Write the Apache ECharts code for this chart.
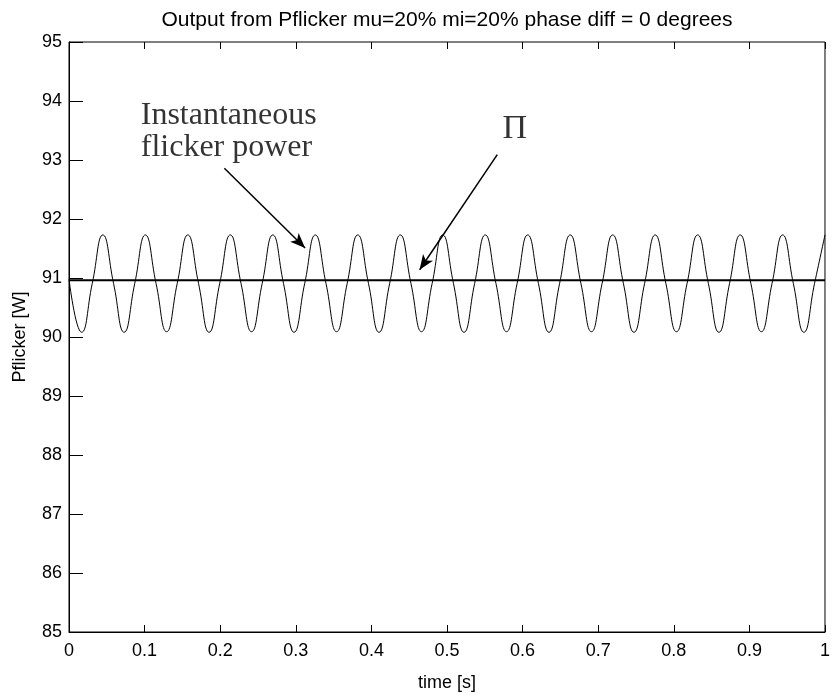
<!DOCTYPE html>
<html>
<head>
<meta charset="utf-8">
<title>Pflicker</title>
<script src="https://cdn.jsdelivr.net/npm/echarts@6/dist/echarts.min.js"></script>
<style>
	html, body { margin: 0; padding: 0; background: #fff; }
	#main { width: 833px; height: 697px; }
</style>
</head>
<body>
<div id="main"></div>
<script>
// time samples [s] (start, trough, crossing, peak, crossing, ...)
var flickerTime = [
	0, 0.0167, 0.0308, 0.0448, 0.0589, 0.0729, 0.0870, 0.1010, 0.1151, 0.1291,
	0.1432, 0.1572, 0.1713, 0.1853, 0.1994, 0.2134, 0.2275, 0.2415, 0.2556, 0.2696,
	0.2837, 0.2977, 0.3118, 0.3258, 0.3399, 0.3539, 0.3680, 0.3820, 0.3961, 0.4101,
	0.4242, 0.4382, 0.4523, 0.4663, 0.4804, 0.4944, 0.5085, 0.5225, 0.5366, 0.5506,
	0.5647, 0.5787, 0.5928, 0.6068, 0.6209, 0.6349, 0.6490, 0.6630, 0.6771, 0.6911,
	0.7052, 0.7192, 0.7333, 0.7473, 0.7614, 0.7754, 0.7895, 0.8035, 0.8176, 0.8316,
	0.8457, 0.8597, 0.8738, 0.8878, 0.9019, 0.9159, 0.9300, 0.9440, 0.9581, 0.9721,
	0.9862, 1.0000
];
// instantaneous flicker power [W]
var flickerPower = [
	90.98, 90.08, 90.91, 91.73, 90.91, 90.08, 90.91, 91.73, 90.91, 90.09,
	90.91, 91.73, 90.91, 90.08, 90.91, 91.73, 90.91, 90.09, 90.91, 91.73,
	90.91, 90.08, 90.91, 91.73, 90.91, 90.09, 90.91, 91.73, 90.91, 90.08,
	90.91, 91.73, 90.91, 90.09, 90.91, 91.73, 90.91, 90.08, 90.91, 91.73,
	90.91, 90.09, 90.91, 91.73, 90.91, 90.08, 90.91, 91.73, 90.91, 90.09,
	90.91, 91.73, 90.91, 90.08, 90.91, 91.73, 90.91, 90.09, 90.91, 91.73,
	90.91, 90.08, 90.91, 91.73, 90.91, 90.09, 90.91, 91.73, 90.91, 90.08,
	90.91, 91.73
];
// mean value (Pi)
var piLevel = 90.96;
var piTime = [0, 1];

// annotation anchors in data units
var arrowFlicker = [[0.2055, 92.86], [0.3123, 91.51]];
var arrowPi = [[0.5665, 93.09], [0.4638, 91.14]];
var labelFlicker = [0.0949, 93.48];
var labelPi = [0.5898, 93.52];

var flickerData = [];
for(var i = 0; i < flickerTime.length; i++) {
	flickerData.push([flickerTime[i], flickerPower[i]]);
}
var piData = [];
for(var j = 0; j < piTime.length; j++) {
	piData.push([piTime[j], piLevel]);
}

var axisFont = {
	color: '#000',
	fontFamily: 'Liberation Sans, Arial, sans-serif',
	fontSize: 18
};

// matlab style ticks pointing into the box: an extra axis pushed 7px into the grid,
// its (outward) ticks end on the frame
function tickAxis(kind, pos) {
	var ax = {
		type: 'value',
		position: pos,
		offset: -7,
		axisLine: { show: false },
		axisTick: { show: true, length: 7, lineStyle: { color: '#000', width: 1 } },
		axisLabel: { show: false },
		splitLine: { show: false }
	};
	if(kind == 'x') {
		ax.min = 0; ax.max = 1; ax.interval = 0.1;
	} else {
		ax.min = 85; ax.max = 95; ax.interval = 1;
	}
	return ax;
}

var myChart = echarts.init(document.getElementById('main'), null, { renderer: 'canvas' });

var option = {
	backgroundColor: '#fff',
	animation: false,
	title: {
		text: 'Output from Pflicker mu=20% mi=20% phase diff = 0 degrees',
		left: 442,
		textAlign: 'center',
		top: 5,
		textStyle: {
			color: '#000',
			fontFamily: 'Liberation Sans, Arial, sans-serif',
			fontSize: 21,
			fontWeight: 'normal'
		}
	},
	grid: {
		left: 69,
		right: 5,
		top: 42,
		bottom: 62,
		show: true,
		borderColor: '#000',
		borderWidth: 1,
		backgroundColor: 'transparent'
	},
	xAxis: [{
		type: 'value',
		position: 'bottom',
		min: 0,
		max: 1,
		interval: 0.1,
		name: 'time [s]',
		nameLocation: 'middle',
		nameGap: 42,
		nameTextStyle: axisFont,
		axisLine: { lineStyle: { color: '#000', width: 1 } },
		axisTick: { show: false },
		axisLabel: {
			margin: 10,
			color: '#000',
			fontFamily: axisFont.fontFamily,
			fontSize: 18,
			formatter: function(v) {
				return (Math.round(v * 10) / 10).toString();
			}
		},
		splitLine: { show: false }
	}, tickAxis('x', 'bottom'), tickAxis('x', 'top')],
	yAxis: [{
		type: 'value',
		position: 'left',
		min: 85,
		max: 95,
		interval: 1,
		name: 'Pflicker [W]',
		nameLocation: 'middle',
		nameGap: 40,
		nameTextStyle: axisFont,
		axisLine: { show: true, lineStyle: { color: '#000', width: 1 } },
		axisTick: { show: false },
		axisLabel: {
			margin: 7,
			color: '#000',
			fontFamily: axisFont.fontFamily,
			fontSize: 18
		},
		splitLine: { show: false }
	}, tickAxis('y', 'left'), tickAxis('y', 'right')],
	series: [{
		name: 'Instantaneous flicker power',
		type: 'line',
		data: flickerData,
		smooth: 0.5,
		symbol: 'none',
		lineStyle: { color: '#000', width: 1 },
		z: 3
	}, {
		name: 'Pi',
		type: 'line',
		data: piData,
		symbol: 'none',
		lineStyle: { color: '#000', width: 2 },
		z: 4,
		markLine: {
			silent: true,
			symbol: ['none', 'arrow'],
			symbolSize: [9, 15],
			label: { show: false },
			lineStyle: { color: '#000', width: 1.5, type: 'solid' },
			data: [
				[{ coord: arrowFlicker[0] }, { coord: arrowFlicker[1] }],
				[{ coord: arrowPi[0] }, { coord: arrowPi[1] }]
			]
		}
	}, {
		// text labels for the arrows
		type: 'scatter',
		symbolSize: 0,
		silent: true,
		data: [{
			value: labelFlicker,
			label: {
				show: true,
				position: 'right',
				distance: 0,
				align: 'left',
				formatter: 'Instantaneous\nflicker power',
				color: '#000',
				fontFamily: 'Liberation Serif, Times New Roman, serif',
				fontSize: 32,
				lineHeight: 32
			}
		}, {
			value: labelPi,
			label: {
				show: true,
				position: 'inside',
				formatter: 'Π',
				color: '#000',
				fontFamily: 'Liberation Serif, Times New Roman, serif',
				fontSize: 34
			}
		}]
	}]
};

myChart.setOption(option);
</script>
</body>
</html>
